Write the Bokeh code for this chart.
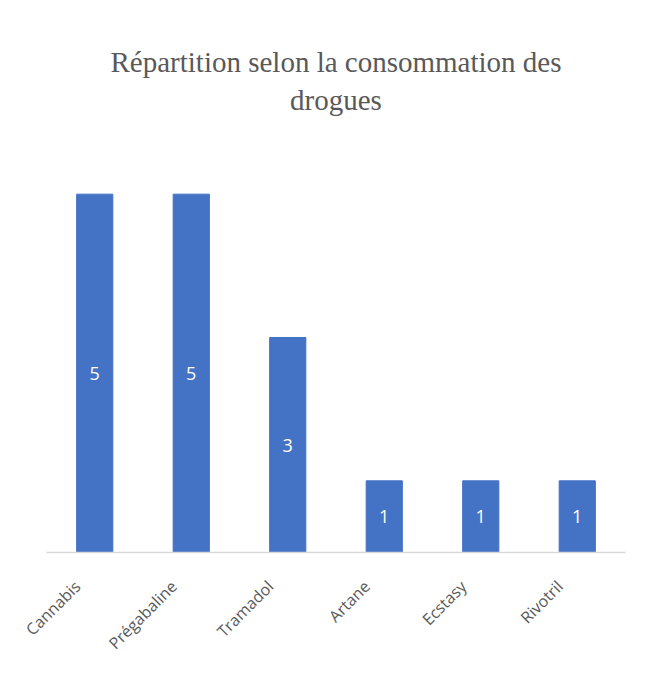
import math
from bokeh.plotting import figure
from bokeh.models import ColumnDataSource, LabelSet, Range1d, LinearAxis, FixedTicker, Title
from bokeh.core.properties import value
from bokeh.embed import file_html
from bokeh.resources import INLINE

categories = ["Cannabis", "Prégabaline", "Tramadol", "Artane", "Ecstasy", "Rivotril"]
values = [5, 5, 3, 1, 1, 1]
label_text = [str(v) for v in values]
title_lines = ["Répartition selon la consommation des", "drogues"]

n = len(categories)
xpos = [i + 0.5 for i in range(n)]
src = ColumnDataSource(dict(x=xpos, cat=categories, val=values,
                            mid=[v / 2 for v in values], txt=label_text))

p = figure(x_range=Range1d(0, n), y_range=Range1d(0, 6), width=635, height=668,
           output_backend="svg", toolbar_location=None, min_border_left=46, min_border_right=10,
           min_border_top=122, min_border_bottom=116, x_axis_location=None)

p.vbar(x="x", top="val", width=0.375, source=src, color="#4472C4")

labels = LabelSet(x="x", y="mid", text="txt", source=src, text_color="white",
                  text_align="center", text_baseline="middle", text_font=value("Open Sans"),
                  text_font_size="18px")
p.add_layout(labels)

p.title.visible = False
t2 = Title(text=title_lines[1], align="center", text_font="Liberation Serif", text_font_size="29px",
           text_font_style="normal", text_color="#595959", text_line_height=0.97, offset=-9,
           standoff=14)
t1 = Title(text=title_lines[0], align="center", text_font="Liberation Serif", text_font_size="29px",
           text_font_style="normal", text_color="#595959", text_line_height=0.97, offset=-9,
           standoff=-7)
p.add_layout(t2, "above")
p.add_layout(t1, "above")

# tick-label axis on a shifted range so labels sit slightly left of bar centres
p.extra_x_ranges["lbl"] = Range1d(0.18, n + 0.18)
ax = LinearAxis(x_range_name="lbl", ticker=FixedTicker(ticks=xpos),
                major_label_overrides={t: c for t, c in zip(xpos, categories)})
p.add_layout(ax, "below")

p.yaxis.visible = False
p.grid.visible = False
p.outline_line_color = None
ax.axis_line_color = "#d9d9d9"
ax.axis_line_width = 1.5
ax.major_tick_line_color = None
ax.minor_tick_line_color = None
ax.major_label_orientation = math.pi / 4
ax.major_label_text_font = "Open Sans"
ax.major_label_text_font_size = "16px"
ax.major_label_text_color = "#595959"
ax.major_label_standoff = 25

html = file_html(p, INLINE)
open("out.html", "w").write(html)
